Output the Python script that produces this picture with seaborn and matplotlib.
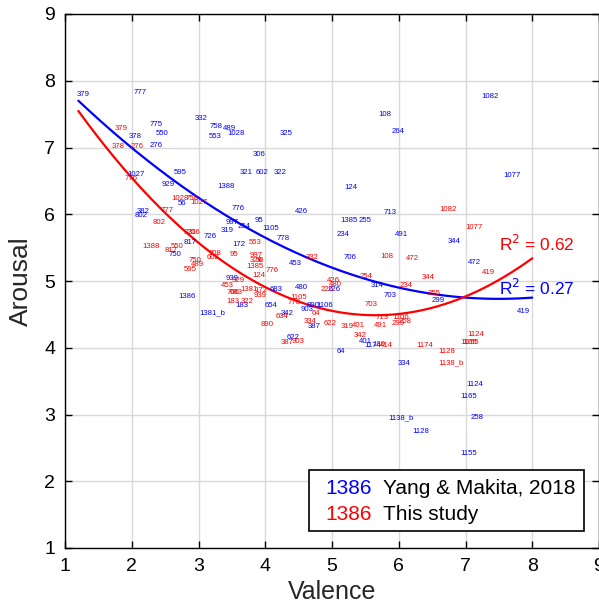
import numpy as np
import pandas as pd
import matplotlib
matplotlib.use("Agg")
import matplotlib.pyplot as plt
from matplotlib.patches import Rectangle
import seaborn as sns

# Yang & Makita, 2018 (blue)
blue_labels = ['379', '777', '775', '550', '378', '276', '332', '758', '489', '553',
               '1028', '325', '306', '321', '602', '322', '1388', '595', '929', '1027',
               '56', '382', '802', '776', '426', '124', '108', '264', '1082', '1077',
               '1385', '255', '713', '234', '491', '344', '706', '472', '314', '703',
               '299', '419', '997', '254', '95', '1105', '319', '726', '817', '750',
               '172', '778', '453', '1386', '1381_b', '939', '183', '683', '654', '480',
               '342', '903', '890', '1106', '226', '387', '622', '64', '401', '1174',
               '334', '1124', '1165', '1138_b', '258', '1128', '1155']
blue_val = [1.18, 2.03, 2.27, 2.36, 1.95, 2.27, 2.95, 3.17, 3.36, 3.16,
            3.43, 4.22, 3.81, 3.62, 3.86, 4.13, 3.29, 2.63, 2.45, 1.94,
            2.69, 2.08, 2.04, 3.49, 4.45, 5.18, 5.70, 5.90, 7.24, 7.56,
            5.12, 5.40, 5.78, 5.07, 5.94, 6.74, 5.18, 7.04, 5.58, 5.78,
            6.50, 7.77, 3.41, 3.59, 3.84, 3.96, 3.33, 3.07, 2.78, 2.55,
            3.51, 4.17, 4.36, 2.70, 3.02, 3.41, 3.55, 4.07, 3.99, 4.45,
            4.23, 4.53, 4.62, 4.76, 4.93, 4.64, 4.32, 5.07, 5.40, 5.48,
            5.99, 7.01, 6.92, 5.85, 7.07, 6.21, 6.92]
blue_aro = [7.79, 7.82, 7.35, 7.21, 7.17, 7.03, 7.44, 7.31, 7.28, 7.16,
            7.21, 7.21, 6.90, 6.63, 6.63, 6.63, 6.41, 6.63, 6.45, 6.59,
            6.16, 6.04, 5.98, 6.08, 6.04, 6.40, 7.49, 7.24, 7.76, 6.58,
            5.91, 5.90, 6.03, 5.70, 5.70, 5.59, 5.35, 5.27, 4.94, 4.79,
            4.71, 4.54, 5.87, 5.81, 5.90, 5.79, 5.75, 5.66, 5.58, 5.40,
            5.55, 5.63, 5.26, 4.77, 4.53, 5.04, 4.63, 4.87, 4.63, 4.90,
            4.51, 4.57, 4.63, 4.63, 4.87, 4.32, 4.15, 3.95, 4.09, 4.04,
            3.76, 3.45, 3.27, 2.95, 2.95, 2.74, 2.41]

# This study (red)
red_labels = ['379', '378', '276', '776', '1028', '758', '1027', '777', '802', '1388',
              '550', '817', '321', '306', '750', '489', '595', '602', '308', '95',
              '553', '997', '326', '56', '1385', '776', '124', '332', '929', '453',
              '706', '683', '1381', '172', '939', '183', '322', '1105', '778', '634',
              '64', '890', '334', '622', '319', '401', '342', '491', '713', '1106',
              '299', '258', '387', '903', '180', '414', '1174', '1128', '1138_b', '1124',
              '1165', '1155', '703', '254', '234', '108', '472', '344', '255', '1082',
              '1077', '419', '426', '480', '226']
red_val = [1.75, 1.70, 1.98, 1.89, 2.60, 2.80, 2.88, 2.43, 2.31, 2.16,
           2.58, 2.49, 2.78, 2.84, 2.85, 2.88, 2.78, 3.12, 3.16, 3.47,
           3.76, 3.76, 3.76, 3.86, 3.72, 4.00, 3.80, 4.60, 3.49, 3.34,
           3.42, 3.47, 3.63, 3.84, 3.82, 3.42, 3.63, 4.37, 4.33, 4.15,
           4.70, 3.93, 4.57, 4.88, 5.13, 5.30, 5.33, 5.62, 5.66, 5.90,
           5.90, 6.00, 4.23, 4.40, 5.60, 5.71, 6.26, 6.59, 6.60, 7.03,
           6.92, 6.96, 5.49, 5.42, 6.01, 5.73, 6.11, 6.35, 6.43, 6.61,
           7.00, 7.25, 4.93, 4.95, 4.83]
red_aro = [7.29, 7.02, 7.02, 6.54, 6.24, 6.24, 6.17, 6.05, 5.88, 5.52,
           5.52, 5.46, 5.72, 5.72, 5.31, 5.25, 5.17, 5.35, 5.41, 5.39,
           5.58, 5.38, 5.31, 5.31, 5.22, 5.16, 5.08, 5.35, 5.01, 4.93,
           4.83, 4.83, 4.88, 4.86, 4.79, 4.70, 4.69, 4.76, 4.68, 4.47,
           4.51, 4.35, 4.39, 4.37, 4.32, 4.33, 4.18, 4.33, 4.45, 4.45,
           4.37, 4.40, 4.08, 4.10, 4.05, 4.04, 4.04, 3.95, 3.78, 4.20,
           4.08, 4.08, 4.65, 5.07, 4.93, 5.37, 5.33, 5.05, 4.81, 6.07,
           5.80, 5.12, 5.00, 4.95, 4.87]

# quadratic fit coefficients (a, b, c)
blue_fit = [0.0748, -1.122, 8.94]
red_fit = [0.1545, -1.746, 9.42]
fit_range = [1.2, 8.0]
r2_text = ['0.27', '0.62']

sns.set_style("whitegrid")
plt.rcParams['font.family'] = ['Liberation Sans', 'DejaVu Sans']

fig = plt.figure(figsize=(5.99, 6.15), dpi=100)
ax = fig.add_axes([65 / 599, 1 - 548 / 615, 534 / 599, 534 / 615])

xs = np.linspace(fit_range[0], fit_range[1], 200)
curves = pd.DataFrame({
    'x': np.concatenate([xs, xs]),
    'y': np.concatenate([np.polyval(blue_fit, xs), np.polyval(red_fit, xs)]),
    'src': ['blue'] * len(xs) + ['red'] * len(xs),
})
sns.lineplot(data=curves, x='x', y='y', hue='src', palette={'blue': 'blue', 'red': 'red'},
             linewidth=1.6, legend=False, ax=ax)

for lab, x, y in zip(blue_labels, blue_val, blue_aro):
    ax.text(x, y, lab, color='blue', fontsize=5.6, ha='left', va='center')
for lab, x, y in zip(red_labels, red_val, red_aro):
    ax.text(x, y, lab, color='red', fontsize=5.6, ha='left', va='center')

ax.text(7.5, 5.55, r'R$^2$ = ' + r2_text[1], color='red', fontsize=12.5, ha='left', va='center')
ax.text(7.5, 4.9, r'R$^2$ = ' + r2_text[0], color='blue', fontsize=12.5, ha='left', va='center')

ax.set_xlim(1, 9)
ax.set_ylim(1, 9)
ax.set_xticks(range(1, 10))
ax.set_yticks(range(1, 10))
ax.grid(True, color='#d9d9d9', linewidth=1.0)
for s in ax.spines.values():
    s.set_color('black')
    s.set_linewidth(1.0)
ax.tick_params(direction='in', length=5, width=1, colors='black', labelsize=14,
               top=True, right=True, left=True, bottom=True, pad=7)
ax.set_xlabel('Valence', fontsize=18, labelpad=4)
ax.set_ylabel('Arousal', fontsize=19, labelpad=8)

# legend box
ax.add_patch(Rectangle((0.4575, 0.031), 0.5135, 0.115, transform=ax.transAxes,
                       facecolor='white', edgecolor='black', linewidth=1.2, zorder=5))
ax.text(0.488, 0.112, '1386', color='blue', fontsize=15, transform=ax.transAxes,
        va='center', zorder=6)
ax.text(0.596, 0.112, 'Yang & Makita, 2018', color='black', fontsize=15,
        transform=ax.transAxes, va='center', zorder=6)
ax.text(0.488, 0.062, '1386', color='red', fontsize=15, transform=ax.transAxes,
        va='center', zorder=6)
ax.text(0.596, 0.062, 'This study', color='black', fontsize=15,
        transform=ax.transAxes, va='center', zorder=6)

fig.savefig('out.png', dpi=100)
